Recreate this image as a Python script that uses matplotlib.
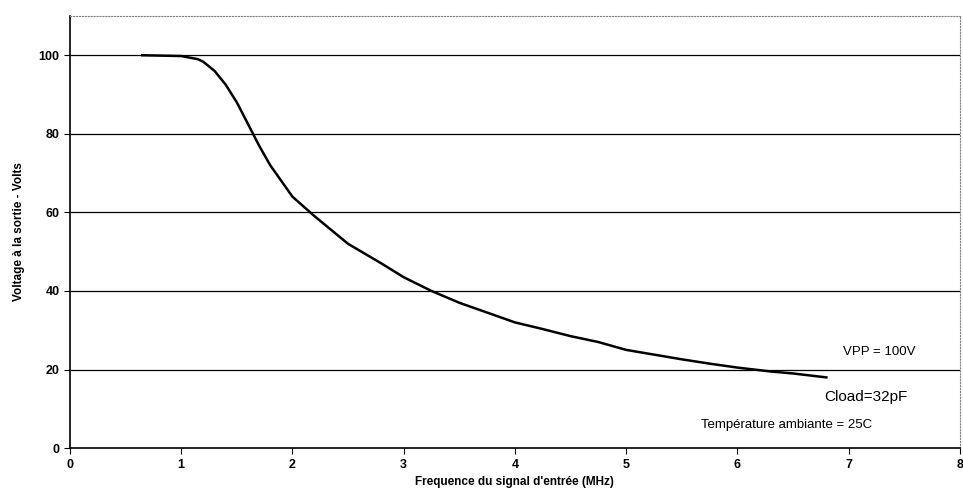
import matplotlib
matplotlib.use("Agg")
import matplotlib.pyplot as plt

# Donnees
frequence = [0.65, 1.0, 1.15, 1.2, 1.3, 1.4, 1.5, 1.6, 1.7, 1.8, 1.9, 2.0,
             2.1, 2.2, 2.35, 2.5, 2.65, 2.8, 3.0, 3.25, 3.5, 3.75, 4.0,
             4.25, 4.5, 4.75, 5.0, 5.25, 5.5, 5.75, 6.0, 6.3, 6.5, 6.8]
voltage = [100, 99.8, 99, 98.3, 96, 92.5, 88, 82.5, 77, 72, 68, 64,
           61.5, 59, 55.5, 52, 49.5, 47, 43.5, 40, 37, 34.5, 32,
           30.3, 28.5, 27, 25, 23.8, 22.6, 21.5, 20.5, 19.5, 19, 18]
yticks = [0, 20, 40, 60, 80, 100]
xticks = [0, 1, 2, 3, 4, 5, 6, 7, 8]

plt.rcParams['font.family'] = ['Liberation Sans', 'DejaVu Sans']

fig = plt.figure(figsize=(9.63, 4.99), dpi=100)
ax = fig.add_axes([0.0727, 0.102, 0.924, 0.866])

for y in yticks[1:]:
    ax.axhline(y, color='black', linewidth=0.9, zorder=1)

ax.plot(frequence, voltage, color='black', linewidth=1.8, zorder=3)

ax.set_xlim(0, 8)
ax.set_ylim(0, 110)
ax.set_xticks(xticks)
ax.set_yticks(yticks)
ax.tick_params(labelsize=9, length=4, direction='out')
for lab in ax.get_xticklabels() + ax.get_yticklabels():
    lab.set_fontweight('bold')

for s in ['top', 'right']:
    ax.spines[s].set_linestyle(':')
    ax.spines[s].set_color('gray')
    ax.spines[s].set_linewidth(0.8)
for s in ['left', 'bottom']:
    ax.spines[s].set_linewidth(1.2)

ax.set_xlabel("Frequence du signal d'entrée (MHz)", fontsize=8.5, fontweight='bold')
ax.set_ylabel("Voltage à la sortie - Volts", fontsize=8.5, fontweight='bold', labelpad=10)

ax.text(6.95, 24.4, "VPP = 100V", fontsize=9.5, va='center')
ax.text(6.78, 13, "Cload=32pF", fontsize=11, va='center')
ax.text(5.67, 5.8, "Température ambiante = 25C", fontsize=9.5, va='center')

fig.savefig("out.png", dpi=100)
